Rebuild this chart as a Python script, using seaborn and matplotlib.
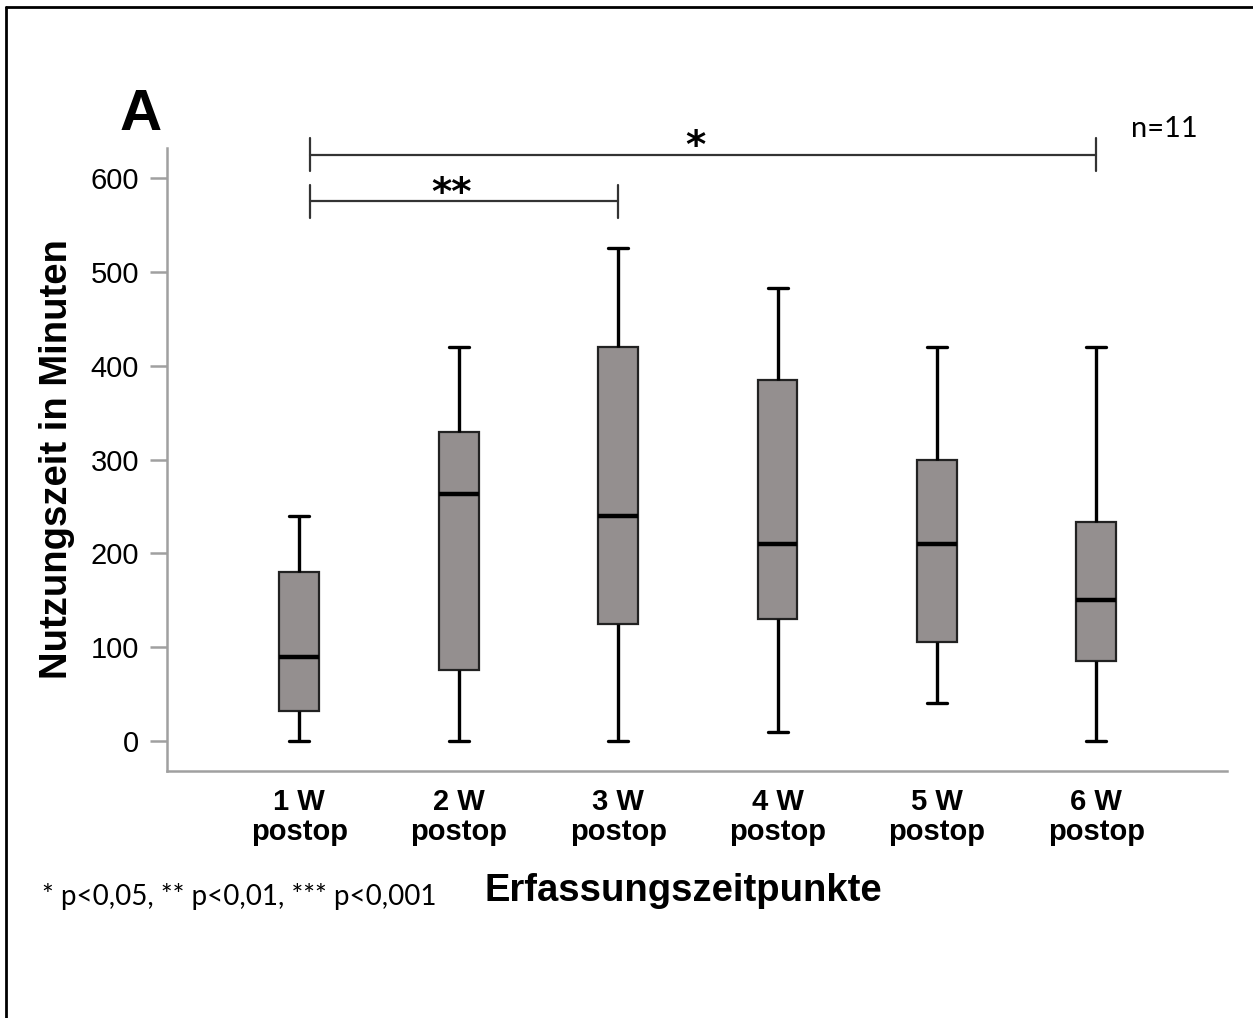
import numpy as np
import pandas as pd
import matplotlib
matplotlib.use('Agg')
import matplotlib.pyplot as plt
from matplotlib.lines import Line2D
import seaborn as sns

# Five-number summaries (min, Q1, median, Q3, max), n=11 per week
zeitpunkte = ["1 W\npostop", "2 W\npostop", "3 W\npostop", "4 W\npostop", "5 W\npostop", "6 W\npostop"]
minimum = [0, 0, 0, 10, 40, 0]
q1 = [32, 76, 125, 130, 105, 85]
median = [90, 263, 240, 210, 210, 150]
q3 = [180, 329, 420, 385, 300, 233]
maximum = [240, 420, 525, 483, 420, 420]

# significance brackets: (from group, to group, label)
vergleiche = [(0, 5, "*"), (0, 2, "**")]
bracket_y = [625, 575]

rows = []
for i, zp in enumerate(zeitpunkte):
    for v in (minimum[i], q1[i], median[i], q3[i], maximum[i]):
        rows.append({"zeit": zp, "minuten": v})
df = pd.DataFrame(rows)

sns.set_style("white")
plt.rcParams['font.family'] = ['Liberation Sans', 'DejaVu Sans']
plt.rcParams['text.color'] = 'black'
plt.rcParams['axes.labelcolor'] = 'black'
plt.rcParams['xtick.color'] = 'black'
plt.rcParams['ytick.color'] = 'black'

fig = plt.figure(figsize=(12.53, 10.18), dpi=100)
ax = fig.add_axes([0.1333, 0.2426, 0.846, 0.612])

sns.boxplot(data=df, x="zeit", y="minuten", ax=ax, order=zeitpunkte,
            color="#948f8f", saturation=1, width=0.25, whis=(0, 100),
            linecolor="#222222", linewidth=1.6,
            medianprops=dict(color="black", linewidth=3.2),
            whiskerprops=dict(color="black", linewidth=2.4),
            capprops=dict(color="black", linewidth=2.4))

ax.set_ylim(-32, 632)
ax.set_xlim(-0.83, 5.82)
ax.set_yticks([0, 100, 200, 300, 400, 500, 600])
ax.tick_params(axis='y', length=12, width=1.8, color="#a0a0a0", labelcolor='black',
               pad=8, labelsize=21, left=True)
ax.tick_params(axis='x', length=0, pad=12, labelsize=21, labelcolor='black')
for lab in ax.get_xticklabels():
    lab.set_fontweight('bold')
    lab.set_linespacing(1.1)
for s in ['top', 'right']:
    ax.spines[s].set_visible(False)
for s in ['left', 'bottom']:
    ax.spines[s].set_color("#a0a0a0")
    ax.spines[s].set_linewidth(1.8)

ax.set_ylabel("Nutzungszeit in Minuten", fontsize=27.5, fontweight='bold')
ax.yaxis.set_label_coords(-0.087, 0.5)
ax.set_xlabel("Erfassungszeitpunkte", fontsize=27.5, fontweight='bold')
ax.xaxis.set_label_coords(0.487, -0.163)

# significance brackets
starts = [0.07, 0.07]
for (a, b, lab), yb, xa in zip(vergleiche, bracket_y, starts):
    ax.plot([xa, b], [yb, yb], color="#333333", lw=1.6, clip_on=False)
    for xx in (xa, b):
        ax.plot([xx, xx], [yb - 18, yb + 18], color="#333333", lw=1.6, clip_on=False)
    xm = xa + (b - xa) * (0.49 if lab == "*" else 0.46)
    ax.text(xm, yb - 12, lab, ha='center', va='bottom', fontsize=28,
            family=['DejaVu Sans'], fontweight='bold')

fig.text(0.0958, 0.8723, "A", fontsize=42, fontweight='bold', va='baseline')
fig.text(0.9026, 0.8654, "n=11", fontsize=21, family=['Lato', 'DejaVu Sans'], va='baseline')
fig.text(0.0335, 0.111, "* p<0,05, ** p<0,01, *** p<0,001", fontsize=20,
         family=['Lato', 'DejaVu Sans'], va='baseline')

# frame lines on top and left
fig.add_artist(Line2D([0.0048, 0.0048], [0, 0.9935], transform=fig.transFigure, color='black', lw=2))
fig.add_artist(Line2D([0.0048, 1.0], [0.9935, 0.9935], transform=fig.transFigure, color='black', lw=2))

fig.savefig("out.png", dpi=100)
